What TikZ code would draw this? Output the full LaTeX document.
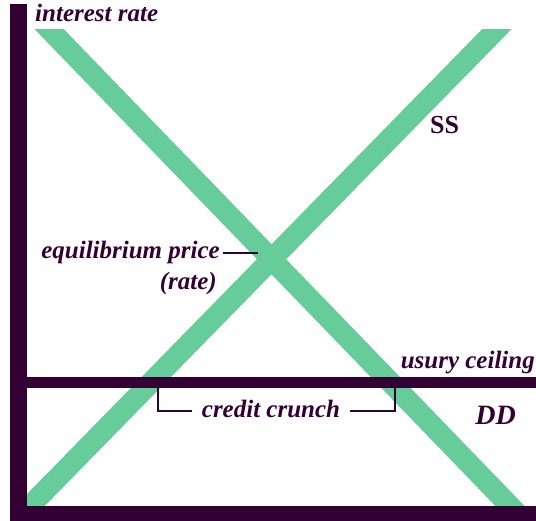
\documentclass[tikz,border=0pt]{standalone}
\usepackage{fontspec}
\usetikzlibrary{calc}
\setmainfont{Liberation Serif}
\definecolor{band}{HTML}{66CC99}
\definecolor{ink}{HTML}{330033}
\begin{document}
\begin{tikzpicture}[x=1pt,y=-1pt,
  curve/.style={band,line width=21pt},
  axis/.style={ink,line width=17pt},
  lbl/.style={text=ink,font=\fontsize{25}{27}\selectfont\bfseries\itshape,inner sep=0pt},
  biglbl/.style={text=ink,font=\fontsize{26}{28}\selectfont\bfseries,inner sep=0pt},
  thin/.style={ink,line width=1.8pt}]
\useasboundingbox (0,0) rectangle (536,521);
% curves
\coordinate (ddA) at (50,30);
\coordinate (ddB) at (510,506);
\coordinate (ssA) at (496,30);
\coordinate (ssB) at (30,506);
\begin{scope}
\clip (0,30) rectangle (536,506);
\draw[curve] ($(ddA)!-0.1!(ddB)$) -- ($(ddB)!-0.1!(ddA)$);
\draw[curve] ($(ssA)!-0.1!(ssB)$) -- ($(ssB)!-0.1!(ssA)$);
\end{scope}
% axes
\coordinate (o) at (18.5,513.5);
\coordinate (ytop) at (18.5,4);
\coordinate (xend) at (536,513.5);
\draw[axis,line width=17pt] (o) -- (ytop);
\draw[axis,line width=15pt] (10,513.5) -- (xend);
% ceiling
\coordinate (cl) at (27,382.5);
\coordinate (cr) at (536,382.5);
\draw[axis,line width=11pt] (cl) -- (cr);
% labels
\node[lbl,anchor=base west] (ir) at (35,22) {interest rate};
\node[biglbl,anchor=base west] (ss) at (430,134) {SS};
\node[lbl,anchor=base east,font=\fontsize{28}{30}\selectfont\bfseries\itshape] (dd) at (516,425) {DD};
\node[lbl,anchor=base east] (uc) at (535,369) {usury ceiling};
\node[lbl,anchor=base east] (eq) at (220,259) {equilibrium price};
\node[lbl,anchor=base east] (rate) at (217,290) {(rate)};
\coordinate (eqx) at (258,253);
\draw[thin] (eq.base east) ++(3pt,6pt) coordinate (eqs) -- (eqx |- eqs);
\node[lbl] (cc) at (271,409) {credit crunch};
\coordinate (bl) at (158,388);
\coordinate (br) at (395,388);
\draw[thin] (bl) |- (192,411);
\draw[thin] (br) |- (350,411);
\end{tikzpicture}
\end{document}
